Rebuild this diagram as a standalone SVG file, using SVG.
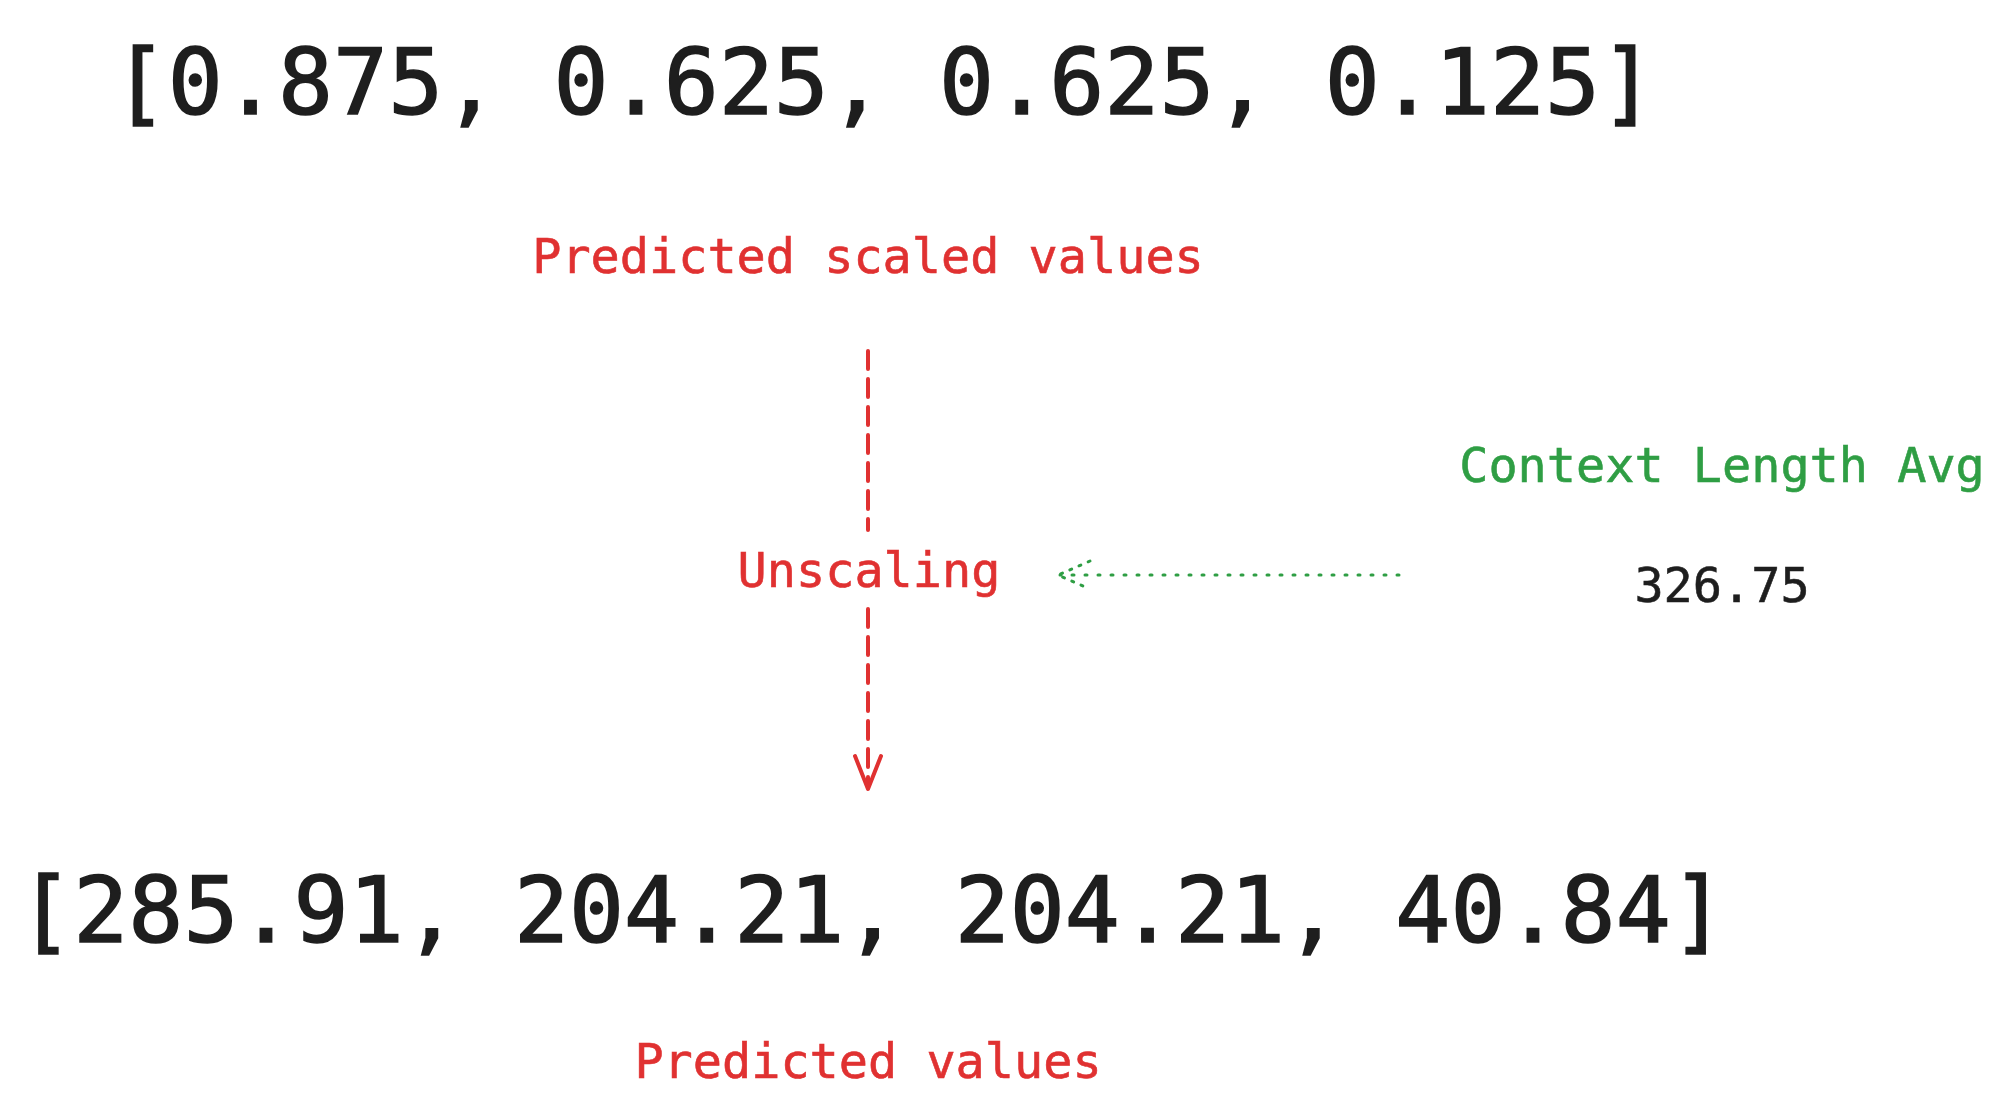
<svg xmlns="http://www.w3.org/2000/svg" width="2000" height="1100" viewBox="0 0 2000 1100">
<style>
.mono{font-family:"DejaVu Sans Mono","Liberation Mono",monospace;text-anchor:middle}
.big{font-size:91.5px;fill:#1e1e1e;stroke:#1e1e1e;stroke-width:1.6}
.lbl{font-size:48.5px;stroke-width:0.6}
.red{fill:#e03131;stroke:#e03131}
.green{fill:#2f9e44;stroke:#2f9e44}
.blk{fill:#1e1e1e;stroke:#1e1e1e}
.rdash{stroke:#e03131;stroke-width:4;fill:none;stroke-dasharray:18 10;stroke-linecap:round}
.rsolid{stroke:#e03131;stroke-width:4;fill:none;stroke-linecap:round;stroke-linejoin:round}
.gdot{stroke:#2f9e44;stroke-width:3;fill:none;stroke-dasharray:2 11;stroke-linecap:round;stroke-linejoin:round}
</style>
<rect width="2000" height="1100" fill="#ffffff"/>
<g id="scaled-array"><text class="mono big" x="884" y="114">[0.875, 0.625, 0.625, 0.125]</text></g>
<g id="scaled-label"><text class="mono lbl red" x="868" y="273">Predicted scaled values</text></g>
<g id="unscaling"><text class="mono lbl red" x="869" y="587">Unscaling</text></g>
<g id="context-avg">
<text class="mono lbl green" x="1722" y="482">Context Length Avg</text>
<text class="mono lbl blk" x="1722" y="602">326.75</text>
</g>
<g id="values-array"><text class="mono big" x="872" y="942">[285.91, 204.21, 204.21, 40.84]</text></g>
<g id="values-label"><text class="mono lbl red" x="868" y="1078">Predicted values</text></g>
<g id="connectors">
<line class="rdash" x1="868" y1="351" x2="868" y2="530"/>
<line class="rdash" x1="868" y1="609" x2="868" y2="785"/>
<polyline class="rsolid" points="855,756 868,789 881,756"/>
<line class="gdot" x1="1399" y1="575" x2="1060" y2="575"/>
<polyline class="gdot" points="1090,561 1058,575 1090,589" style="stroke-dasharray:2 8"/>
</g>
</svg>
